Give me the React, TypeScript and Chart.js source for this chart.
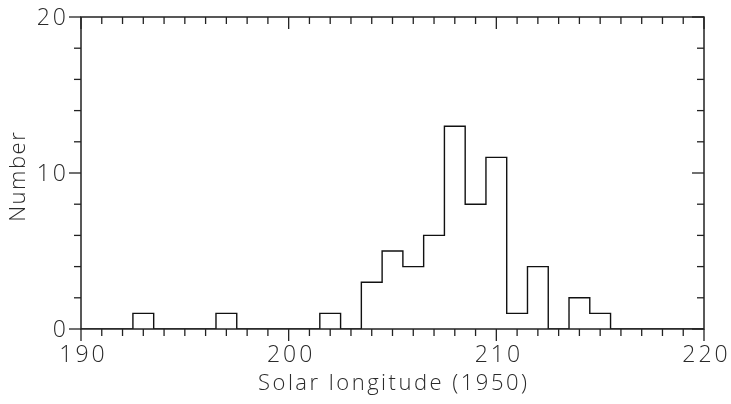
import { useEffect, useRef } from "react";
import { Chart, registerables } from "chart.js";

Chart.register(...registerables);

// Histogram bins (1 degree wide, centred on integer solar longitudes)
const binCentres = [
  190, 191, 192, 193, 194, 195, 196, 197, 198, 199,
  200, 201, 202, 203, 204, 205, 206, 207, 208, 209,
  210, 211, 212, 213, 214, 215, 216, 217, 218, 219, 220,
];
const counts = [
  0, 0, 0, 1, 0, 0, 0, 1, 0, 0,
  0, 0, 1, 0, 3, 5, 4, 6, 13, 8,
  11, 1, 4, 0, 2, 1, 0, 0, 0, 0, 0,
];
const xTickLabels = [190, 200, 210, 220];
const yTickLabels = [0, 10, 20];
const xMinorStep = 1;
const yMinorStep = 2;
const xTitle = "Solar longitude (1950)";
const yTitle = "Number";

const FONT = "'Open Sans', 'DejaVu Sans', sans-serif";
const TEXT = "#2a2a2a";

const framePlugin = {
  id: "frame",
  afterDraw(chart: any) {
    const { ctx, chartArea, scales } = chart;
    const { left, right, top, bottom } = chartArea;
    const x = scales.x;
    const y = scales.y;
    const line = (x1: number, y1: number, x2: number, y2: number) => {
      ctx.beginPath();
      ctx.moveTo(x1, y1);
      ctx.lineTo(x2, y2);
      ctx.stroke();
    };
    ctx.save();
    ctx.strokeStyle = "#222";
    ctx.lineWidth = 1.5;
    ctx.strokeRect(left, top, right - left, bottom - top);
    ctx.lineWidth = 1.3;
    const xMin = xTickLabels[0];
    const xMax = xTickLabels[xTickLabels.length - 1];
    for (let v = xMin; v <= xMax; v += xMinorStep) {
      const px = x.getPixelForValue(v);
      const major = xTickLabels.includes(v);
      const len = major ? 12 : 7;
      line(px, bottom, px, bottom + len);
      line(px, top, px, top + len);
    }
    const yMin = yTickLabels[0];
    const yMax = yTickLabels[yTickLabels.length - 1];
    for (let v = yMin; v <= yMax; v += yMinorStep) {
      const py = y.getPixelForValue(v);
      const major = yTickLabels.includes(v);
      const len = major ? 12 : 7;
      line(left - len, py, left, py);
      line(right - len, py, right, py);
    }

    // text
    ctx.fillStyle = TEXT;
    ctx.font = `300 23px ${FONT}`;
    (ctx as any).letterSpacing = "3px";
    ctx.textBaseline = "alphabetic";
    for (const v of xTickLabels) {
      const s = String(v);
      const w = ctx.measureText(s).width - 3;
      ctx.fillText(s, x.getPixelForValue(v) - w / 2 + 1, bottom + 33);
    }
    ctx.textAlign = "left";
    for (const v of yTickLabels) {
      const s = String(v);
      const w = ctx.measureText(s).width - 3;
      ctx.fillText(s, left - 15 - w, y.getPixelForValue(v) + 8);
    }
    ctx.font = `300 22px ${FONT}`;
    (ctx as any).letterSpacing = "2.5px";
    const tw = ctx.measureText(xTitle).width - 2.5;
    ctx.fillText(xTitle, (left + right) / 2 - tw / 2, 390);
    (ctx as any).letterSpacing = "1.5px";
    const yw = ctx.measureText(yTitle).width - 1.5;
    ctx.translate(25, (top + bottom) / 2 + 4);
    ctx.rotate(-Math.PI / 2);
    ctx.fillText(yTitle, -yw / 2, 0);
    ctx.restore();
  },
};

export default function App() {
  const ref = useRef<HTMLCanvasElement | null>(null);

  useEffect(() => {
    if (!ref.current) return;
    const points = binCentres.map((c, i) => ({ x: c - 0.5, y: counts[i] }));
    points.push({
      x: binCentres[binCentres.length - 1] + 0.5,
      y: counts[counts.length - 1],
    });

    const chart = new Chart(ref.current, {
      type: "line",
      data: {
        datasets: [
          {
            data: points,
            stepped: "before",
            borderColor: "#111",
            borderWidth: 1.4,
            pointRadius: 0,
            fill: false,
          },
        ],
      },
      options: {
        animation: false,
        responsive: true,
        maintainAspectRatio: false,
        layout: { padding: { top: 17, right: 27, left: 0, bottom: 0 } },
        plugins: {
          legend: { display: false },
          tooltip: { enabled: false },
        },
        scales: {
          x: {
            type: "linear",
            position: "bottom",
            min: xTickLabels[0],
            max: xTickLabels[xTickLabels.length - 1],
            afterFit: (s: any) => {
              s.height = 75;
            },
            grid: { display: false, drawTicks: false },
            border: { display: false },
            ticks: { display: false },
            title: { display: false },
          },
          y: {
            type: "linear",
            min: yTickLabels[0],
            max: yTickLabels[yTickLabels.length - 1],
            afterFit: (s: any) => {
              s.width = 81;
            },
            grid: { display: false, drawTicks: false },
            border: { display: false },
            ticks: { display: false },
            title: { display: false },
          },
        },
      },
      plugins: [framePlugin],
    });
    return () => chart.destroy();
  }, []);

  return (
    <div
      style={{
        position: "fixed",
        left: 0,
        top: 0,
        width: 731,
        height: 404,
        background: "#fff",
      }}
    >
      <canvas ref={ref} />
    </div>
  );
}
